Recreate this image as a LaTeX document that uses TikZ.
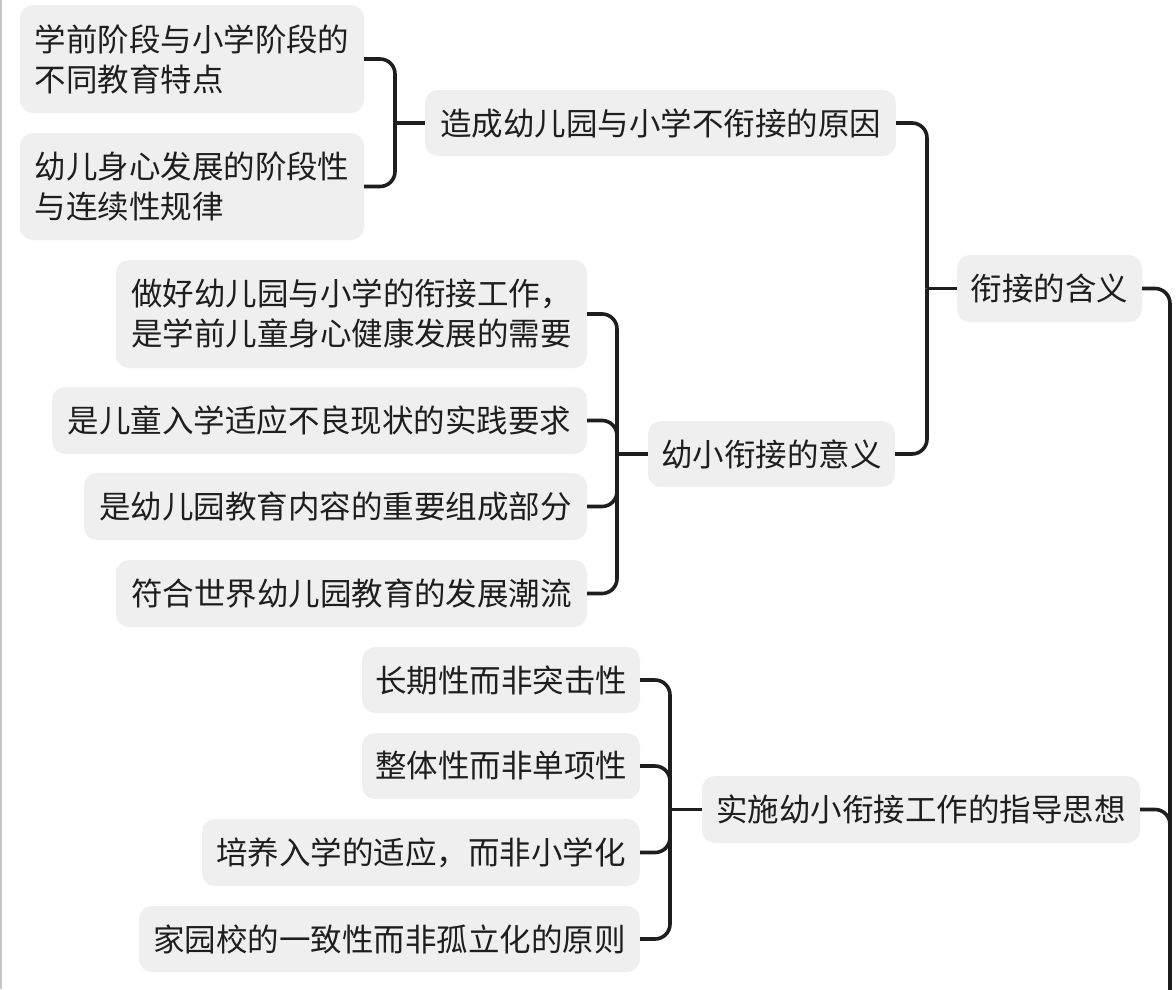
\documentclass[tikz,border=0pt]{standalone}
\usepackage{fontspec}
\newfontfamily\cjk{Noto Sans CJK SC}
\definecolor{boxgray}{HTML}{EFEFEF}
\definecolor{ink}{HTML}{1E1E1E}
\tikzset{
  mbox/.style={fill=boxgray, rounded corners=13pt, inner sep=0pt,
    text=ink, font=\cjk\fontsize{31.5}{40}\selectfont, align=left},
  conn/.style={draw=ink, line width=3.6pt, rounded corners=15pt, line cap=butt},
}
\begin{document}
\begin{tikzpicture}[x=1pt,y=1pt]
\useasboundingbox (0,0) rectangle (1176,-989);
\fill[white] (0,0) rectangle (1176,-989);
\clip (0,0) rectangle (1176,-989);
\draw[gray!45, line width=1.5pt] (1,0) -- (1,-989);

% nodes
\node[mbox, minimum width=344, minimum height=108] (A1) at (192,-59) {学前阶段与小学阶段的\\不同教育特点};
\node[mbox, minimum width=344, minimum height=107] (A2) at (192,-186.5) {幼儿身心发展的阶段性\\与连续性规律};
\node[mbox, minimum width=471, minimum height=66] (B) at (660.5,-123) {造成幼儿园与小学不衔接的原因};
\node[mbox, minimum width=185, minimum height=67] (C) at (1049.5,-288.5) {衔接的含义};
\node[mbox, minimum width=471, minimum height=108] (D1) at (351.5,-314) {做好幼儿园与小学的衔接工作，\\是学前儿童身心健康发展的需要};
\node[mbox, minimum width=535, minimum height=67] (D2) at (319.5,-420.5) {是儿童入学适应不良现状的实践要求};
\node[mbox, minimum width=503, minimum height=67] (D3) at (335.5,-506.5) {是幼儿园教育内容的重要组成部分};
\node[mbox, minimum width=471, minimum height=67] (D4) at (351.5,-593.5) {符合世界幼儿园教育的发展潮流};
\node[mbox, minimum width=247, minimum height=66] (E) at (771.5,-454) {幼小衔接的意义};
\node[mbox, minimum width=278, minimum height=66] (G1) at (501,-680) {长期性而非突击性};
\node[mbox, minimum width=278, minimum height=66] (G2) at (501,-766) {整体性而非单项性};
\node[mbox, minimum width=438, minimum height=67] (G3) at (421,-852.5) {培养入学的适应，而非小学化};
\node[mbox, minimum width=501, minimum height=66] (G4) at (389.5,-939) {家园校的一致性而非孤立化的原则};
\node[mbox, minimum width=438, minimum height=67] (F) at (921,-809.5) {实施幼小衔接工作的指导思想};

% junction coordinates
\coordinate (jA) at (395,-123);
\coordinate (jC) at (927,-288.5);
\coordinate (jE) at (617,-454);
\coordinate (jF) at (670,-809.5);
\coordinate (root) at (1170,-1100);

% connectors
\draw[conn] (A1.east) -| (jA);
\draw[conn] (A2.east) -| (jA);
\draw[conn] (jA) -- (B.west);

\draw[conn] (B.east) -| (jC);
\draw[conn] (E.east) -| (jC);
\draw[conn] (jC) -- (C.west);

\draw[conn] (D1.east) -| (jE);
\draw[conn] (D2.east) -| (jE);
\draw[conn] (D3.east) -| (jE);
\draw[conn] (D4.east) -| (jE);
\draw[conn] (jE) -- (E.west);

\draw[conn] (G1.east) -| (jF);
\draw[conn] (G2.east) -| (jF);
\draw[conn] (G3.east) -| (jF);
\draw[conn] (G4.east) -| (jF);
\draw[conn] (jF) -- (F.west);

\draw[conn] (C.east) -| (root);
\draw[conn] (F.east) -| (root);
\end{tikzpicture}
\end{document}
